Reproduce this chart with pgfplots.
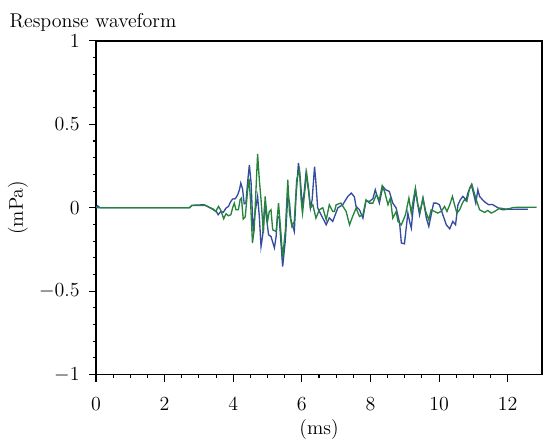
\documentclass[border=0pt,12pt]{standalone}
\usepackage{pgfplots}
\pgfplotsset{compat=1.18}
\definecolor{wblue}{RGB}{52,76,160}
\definecolor{wgreen}{RGB}{38,130,60}
\begin{document}
\begin{tikzpicture}
\begin{axis}[
    scale only axis,
    width=268pt, height=200.5pt,
    xmin=0, xmax=13, ymin=-1, ymax=1,
    xtick={0,2,...,12}, minor x tick num=3,
    ytick={-1,-0.5,0,0.5,1}, minor y tick num=4,
    tick pos=left, tick align=outside,
    major tick length=4.2pt, minor tick length=1.9pt,
    every tick/.style={black, line width=0.65pt},
    axis line style={line width=0.75pt},
    xticklabel style={yshift=-5.5pt},
    yticklabel style={xshift=-1.5pt},
    xlabel={(ms)}, ylabel={(mPa)},
    xlabel style={inner sep=1pt, yshift=-0.2pt},
    ylabel style={inner sep=1pt, yshift=1.5pt},
    title={Response waveform},
    title style={at={(rel axis cs:0,1)}, anchor=south, inner sep=1pt, yshift=-1.2pt, xshift=-1.8pt},
]
% blue trace
\addplot[wblue, line width=0.8pt] coordinates {
(0,0) (0.04,0.012) (0.12,0) (2.72,0) (2.80,0.015) (3.15,0.018) (3.25,0.008)
(3.35,-0.002) (3.45,-0.016) (3.51,-0.022) (3.56,-0.042) (3.64,-0.022) (3.71,-0.027)
(3.79,-0.002) (3.86,0.008) (3.93,0.038) (3.98,0.052) (4.06,0.054) (4.13,0.078)
(4.18,0.108) (4.22,0.148) (4.27,0.114) (4.32,0.024) (4.37,0.03) (4.42,0.156)
(4.47,0.257) (4.52,0.15) (4.58,-0.142) (4.64,-0.022) (4.71,0.068) (4.76,-0.052)
(4.81,-0.232) (4.86,-0.162) (4.91,0) (4.95,-0.03) (5.03,-0.162) (5.10,-0.172)
(5.20,-0.24) (5.25,-0.172) (5.29,-0.052) (5.34,-0.06) (5.44,-0.353) (5.52,-0.192)
(5.59,0.078) (5.64,0.03) (5.68,-0.072) (5.78,-0.142) (5.83,0.068) (5.90,0.268)
(5.95,0.187) (6.01,0.008) (6.07,0.098) (6.12,0.208) (6.19,0.108) (6.25,-0.002)
(6.30,0.048) (6.37,0.247) (6.41,0.15) (6.46,0) (6.56,-0.042) (6.71,-0.102)
(6.80,-0.06) (6.90,-0.082) (7.05,0) (7.19,0.018) (7.34,0.068) (7.44,0.088)
(7.53,0.066) (7.58,0.008) (7.68,-0.012) (7.78,-0.062) (7.87,0.042) (7.97,0.038)
(8.07,0.054) (8.14,0.108) (8.21,0.06) (8.26,0.028) (8.36,0.128) (8.44,0.108)
(8.55,0.098) (8.65,0.028) (8.75,-0.002) (8.85,-0.092) (8.90,-0.211) (8.99,-0.216)
(9.09,-0.032) (9.14,-0.082) (9.19,-0.122) (9.24,-0.012) (9.31,0.108) (9.38,0.018)
(9.43,-0.042) (9.53,0.058) (9.63,-0.062) (9.70,-0.112) (9.77,-0.042) (9.84,0.028)
(9.92,0.028) (10.01,0.018) (10.11,-0.042) (10.21,-0.102) (10.31,-0.126) (10.40,-0.082)
(10.48,-0.102) (10.55,0.018) (10.62,0.048) (10.69,0.068) (10.79,0.048) (10.84,0.088)
(10.94,0.138) (10.99,0.098) (11.07,0.028) (11.13,0.108) (11.18,0.068) (11.28,0.045)
(11.36,0.03) (11.45,0.018) (11.55,0.02) (11.65,0.008) (11.77,-0.006) (11.86,-0.012)
(12.01,-0.009) (12.15,-0.009) (12.59,-0.009)
};
% green trace
\addplot[wgreen, line width=0.8pt] coordinates {
(0,0) (2.72,0) (2.80,0.014) (3.20,0.014) (3.30,0.002) (3.42,-0.008) (3.49,-0.022)
(3.57,0.008) (3.64,-0.016) (3.72,-0.066) (3.79,-0.036) (3.86,-0.048) (3.93,-0.042)
(3.98,-0.002) (4.03,0.028) (4.08,-0.012) (4.15,-0.012) (4.20,0.048) (4.24,0.058)
(4.29,-0.068) (4.35,-0.054) (4.42,0.108) (4.46,0.174) (4.50,0.058) (4.56,-0.211)
(4.61,-0.132) (4.71,0.323) (4.76,0.168) (4.81,0.048) (4.88,-0.152) (4.93,0.068)
(5.00,-0.082) (5.05,-0.022) (5.10,-0.012) (5.15,-0.132) (5.25,-0.142) (5.32,0.028)
(5.39,-0.152) (5.44,-0.3) (5.52,-0.132) (5.59,0.168) (5.64,-0.032) (5.71,-0.112)
(5.78,-0.082) (5.85,0.168) (5.93,0.228) (5.98,0.048) (6.02,-0.032) (6.10,0.128)
(6.14,0.208) (6.20,0.108) (6.25,-0.002) (6.32,0.018) (6.41,-0.062) (6.51,-0.012)
(6.61,0) (6.71,-0.072) (6.80,0.018) (6.90,-0.022) (6.95,-0.022) (7.00,0.018)
(7.14,0.028) (7.29,-0.022) (7.39,-0.102) (7.48,-0.052) (7.58,-0.002) (7.68,-0.052)
(7.78,-0.042) (7.87,0.048) (7.97,0.028) (8.07,0.028) (8.17,0.078) (8.26,0.048)
(8.34,0.132) (8.41,0.098) (8.51,0.018) (8.58,0.058) (8.65,-0.062) (8.75,-0.022)
(8.80,-0.082) (8.90,-0.102) (9.02,-0.042) (9.12,0.058) (9.19,-0.032) (9.24,0.038)
(9.31,0.118) (9.38,0.018) (9.45,-0.022) (9.53,0.058) (9.61,-0.022) (9.70,-0.072)
(9.77,-0.012) (9.87,-0.022) (9.96,-0.032) (10.06,-0.022) (10.16,0.008) (10.23,-0.022)
(10.31,0.018) (10.39,0.068) (10.45,0.018) (10.52,-0.032) (10.60,-0.012) (10.68,0.028)
(10.74,0.048) (10.81,0.038) (10.89,0.118) (10.96,0.138) (11.04,0.078) (11.10,0.038)
(11.18,-0.012) (11.33,-0.028) (11.42,-0.016) (11.52,-0.032) (11.62,-0.022) (11.77,-0.002)
(11.96,-0.008) (12.11,-0.002) (12.15,0.002) (12.84,0.003)
};
\end{axis}
\pgfresetboundingbox
\useasboundingbox (-57.7pt,-40.3pt) rectangle (269.2pt,225.1pt);
\end{tikzpicture}
\end{document}
